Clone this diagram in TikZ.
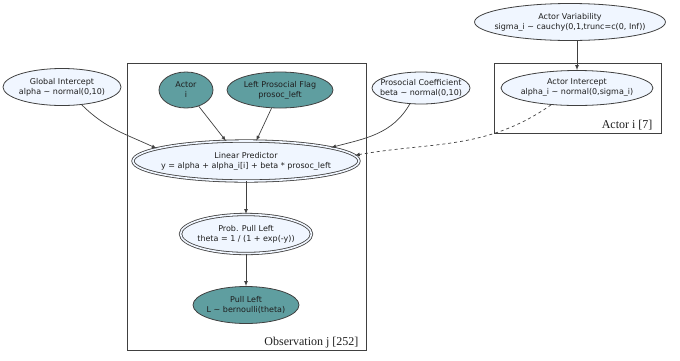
\documentclass[tikz,border=0pt]{standalone}
\usepackage{fontspec}
\setmainfont{DejaVu Sans}
\newfontfamily\platefont{Liberation Serif}
\usetikzlibrary{shapes.geometric}

\definecolor{paramfill}{HTML}{F0F6FF}
\definecolor{datafill}{HTML}{5F9EA0}
\definecolor{linegray}{HTML}{404040}
\definecolor{inkgray}{HTML}{1E1E1E}

\begin{document}
\begin{tikzpicture}[x=1pt, y=1pt, >=latex,
    every node/.style={font=\fontsize{8}{10}\selectfont, align=center, text=inkgray},
    param/.style={ellipse, draw=linegray, fill=paramfill, line width=0.8pt, inner xsep=-8pt, inner ysep=0pt},
    data/.style={param, fill=datafill},
    derived/.style={param, double=paramfill, double distance=1.6pt},
    plate/.style={rectangle, draw=linegray, line width=0.9pt, inner sep=0pt},
    platelabel/.style={font=\platefont\fontsize{12}{14}\selectfont, anchor=base east},
    edge/.style={->, draw=linegray, line width=0.7pt}]
    \useasboundingbox (0,0) rectangle (680,-360);

    % plates
    \node[plate, minimum width=239, minimum height=287] (obsplate) at (246.5,-206.5) {};
    \node[plate, minimum width=167, minimum height=70] (actorplate) at (577.5,-98) {};
    \node[platelabel] (obslabel) at (362,-345) {Observation j [252]};
    \node[platelabel] (actorlabel) at (656,-128) {Actor i [7]};

    % nodes
    \node[param, minimum width=118, minimum height=37] (GI) at (62,-87) {Global Intercept\\alpha \textasciitilde{} normal(0,10)};
    \node[data, minimum width=54, minimum height=36] (Actor) at (186,-90) {Actor\\i};
    \node[data, minimum width=106, minimum height=36] (LPF) at (280,-90) {Left Prosocial Flag\\prosoc\_left};
    \node[param, minimum width=98, minimum height=32] (PC) at (421,-88) {Prosocial Coefficient\\beta \textasciitilde{} normal(0,10)};
    \node[param, minimum width=184, minimum height=37] (AV) at (570,-22) {Actor Variability\\sigma\_i \textasciitilde{} cauchy(0,1,trunc=c(0, Inf))};
    \node[param, minimum width=152, minimum height=35] (AI) at (577,-88) {Actor Intercept\\alpha\_i \textasciitilde{} normal(0,sigma\_i)};
    \node[derived, minimum width=226, minimum height=40] (LP) at (246,-161) {Linear Predictor\\y = alpha + alpha\_i[i] + beta * prosoc\_left};
    \node[derived, minimum width=131, minimum height=39] (Prob) at (246,-234) {Prob. Pull Left\\theta = 1 / (1 + exp(-y))};
    \node[data, minimum width=106, minimum height=37] (Pull) at (246,-305) {Pull Left\\L \textasciitilde{} bernoulli(theta)};

    % edges
    \draw[edge] (AI.north |- AV.south) -- (AI);
    \draw[edge] (GI.318) to[out=-45, in=155] (LP.172);
    \draw[edge] (Actor) -- (LP.135);
    \draw[edge] (LPF) -- (LP.63);
    \draw[edge] (PC.235) to[out=240, in=15] (LP.9);
    \draw[edge, dashed] (AI.213) to[out=215, in=10] (LP.3);
    \draw[edge] (LP) -- (Prob);
    \draw[edge] (Prob) -- (Pull);
\end{tikzpicture}
\end{document}
